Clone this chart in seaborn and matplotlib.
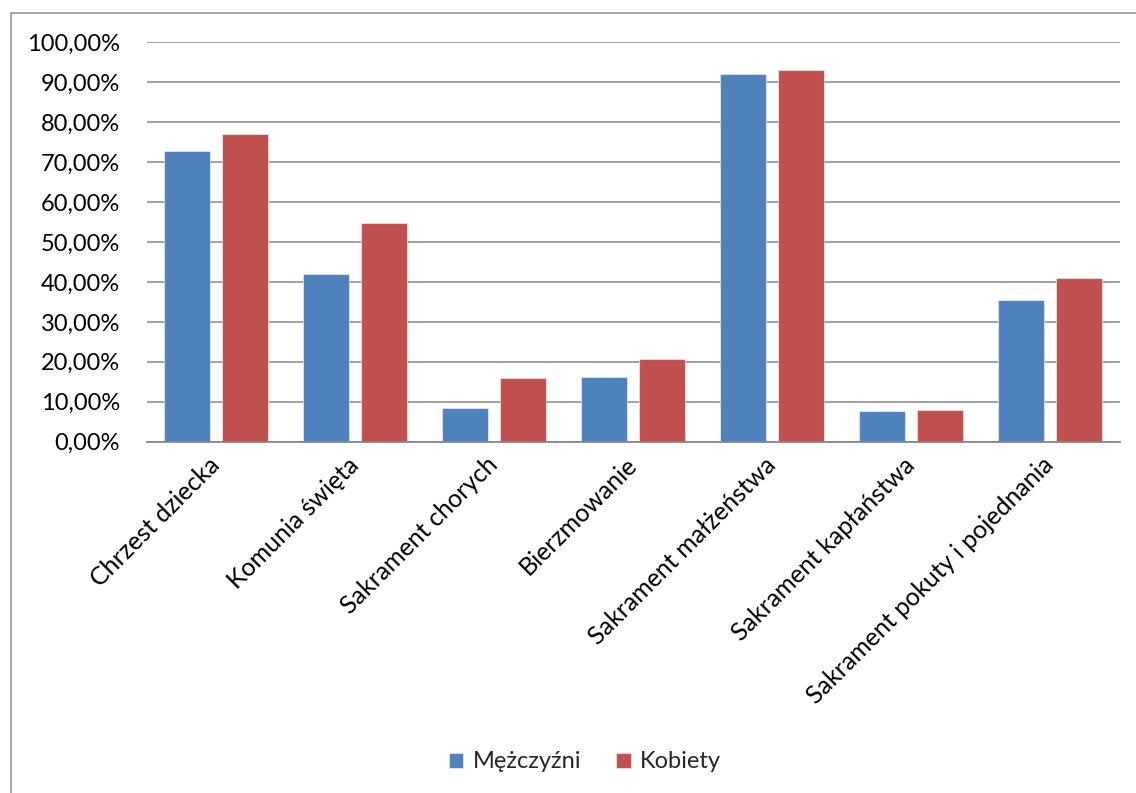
import pandas as pd
import numpy as np
import matplotlib
matplotlib.use("Agg")
import matplotlib.pyplot as plt
import matplotlib.patches as mpatches
from matplotlib.ticker import FuncFormatter, MultipleLocator
import seaborn as sns

categories = ["Chrzest dziecka", "Komunia święta", "Sakrament chorych", "Bierzmowanie",
              "Sakrament małżeństwa", "Sakrament kapłaństwa", "Sakrament pokuty i pojednania"]
men = [72.8, 41.9, 8.4, 16.2, 92.0, 7.7, 35.4]
women = [77.0, 54.8, 15.9, 20.7, 93.1, 8.0, 40.9]
series = ["Mężczyźni", "Kobiety"]
colors = ["#4F81BD", "#C0504D"]

df = pd.DataFrame({
    "kategoria": categories * 2,
    "procent": men + women,
    "plec": [series[0]] * len(categories) + [series[1]] * len(categories),
})

sns.set_style("white")
plt.rcParams["font.family"] = ["Lato", "DejaVu Sans"]

fig = plt.figure(figsize=(11.36, 7.93), dpi=100)
ax = fig.add_axes([0.129, 0.443, 0.8565, 0.5037])

sns.barplot(data=df, x="kategoria", y="procent", hue="plec", order=categories,
            hue_order=series, palette=colors, width=0.835, gap=0.2,
            saturation=1, ax=ax, legend=True)
for bar in ax.patches:
    bar.set_edgecolor((1, 1, 1, 0.5))
    bar.set_linewidth(0.8)

ax.set_ylim(0, 100)
ax.set_xlim(-0.5, len(categories) - 0.5)
ax.yaxis.set_major_locator(MultipleLocator(10))
ax.yaxis.set_major_formatter(FuncFormatter(lambda v, p: f"{v:.2f}".replace(".", ",") + "%"))
ax.grid(axis="y", color="#888888", linewidth=1.1)
ax.set_axisbelow(True)
ax.set_xlabel("")
ax.set_ylabel("")
for s in ["top", "right", "left"]:
    ax.spines[s].set_visible(False)
ax.spines["bottom"].set_color("#888888")
ax.spines["bottom"].set_linewidth(1.3)
ax.tick_params(axis="y", length=0, labelsize=17, colors="black", pad=19)
ax.tick_params(axis="x", length=0, labelsize=18, colors="black", pad=14)
plt.setp(ax.get_xticklabels(), rotation=45, ha="right", va="center", rotation_mode="anchor")

handles, labels = ax.get_legend_handles_labels()
ax.get_legend().remove()
fig.legend(handles, labels, loc="center", bbox_to_anchor=(585 / 1136, 1 - 762 / 793),
           ncol=2, frameon=False, fontsize=17, handlelength=0.6, handleheight=0.6,
           handletextpad=0.4, columnspacing=1.5)

# chart frame (partly cut off at the right and bottom)
fig.patches.append(mpatches.Rectangle((11 / 1136, -0.05), 1.1, 1 - 13 / 793 + 0.05,
                                      transform=fig.transFigure, fill=False,
                                      edgecolor="#8c8c8c", linewidth=1.1))

fig.savefig("out.png", dpi=100)
